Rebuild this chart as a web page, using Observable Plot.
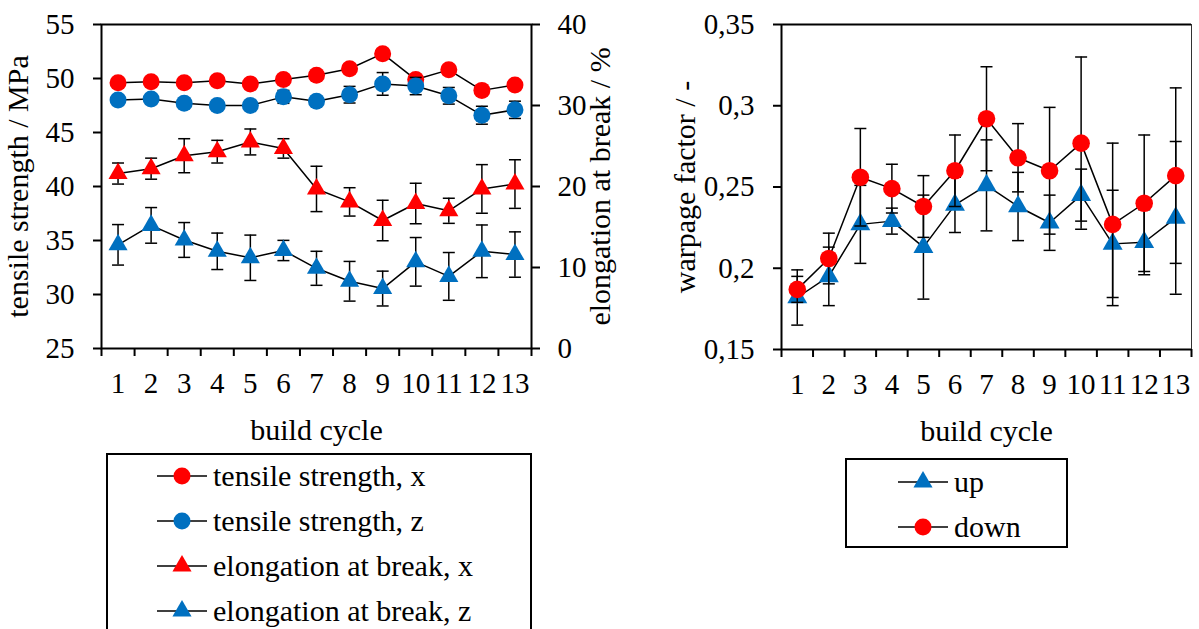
<!DOCTYPE html>
<html><head><meta charset="utf-8">
<script src="https://cdn.jsdelivr.net/npm/d3@7"></script>
<script src="https://cdn.jsdelivr.net/npm/@observablehq/plot@0.6"></script>
<style>
body{margin:0;background:#fff;}
#wrap{position:relative;width:1199px;height:629px;overflow:hidden;font-family:"Liberation Serif","Tinos","Times New Roman","DejaVu Serif","Noto Serif",serif;color:#000;}
.chart{position:absolute;top:0;}
.legend{position:absolute;border:2px solid #000;box-sizing:border-box;background:#fff;}
.row{position:absolute;display:flex;align-items:center;height:30px;font-size:30px;line-height:1;white-space:nowrap;}
.row svg{margin-right:6px;}
</style></head><body><div id="wrap"></div>
<script>
// ---------- data ----------
const cycles = [1,2,3,4,5,6,7,8,9,10,11,12,13];

// left chart (tensile strength, MPa; elongation at break, %)
const tensileX    = [49.6, 49.7, 49.6, 49.8, 49.5, 49.9, 50.3, 50.9, 52.3, 49.9, 50.8, 48.9, 49.4];
const tensileXErr = [0.4, 0.4, 0.4, 0.4, 0.4, 0.4, 0.4, 0.4, 0.4, 0.4, 0.4, 0.4, 0.4];
const tensileZ    = [48.0, 48.1, 47.7, 47.5, 47.5, 48.3, 47.9, 48.5, 49.5, 49.3, 48.4, 46.6, 47.1];
const tensileZErr = [0.4, 0.4, 0.4, 0.4, 0.4, 0.6, 0.4, 0.77, 1.05, 0.8, 0.77, 0.83, 0.8];
const elongX      = [21.6, 22.2, 23.8, 24.3, 25.5, 24.7, 19.7, 18.1, 15.8, 17.9, 17.0, 19.7, 20.3];
const elongXErr   = [1.3, 1.3, 2.1, 1.4, 1.6, 1.2, 2.8, 1.75, 2.5, 2.5, 1.55, 3.0, 3.0];
const elongZ      = [12.8, 15.2, 13.4, 12.0, 11.2, 12.1, 9.9, 8.3, 7.4, 10.7, 8.9, 12.0, 11.6];
const elongZErr   = [2.5, 2.2, 2.15, 2.25, 2.8, 1.25, 2.1, 2.45, 2.15, 3.0, 2.95, 3.25, 2.8];

// right chart (warpage factor)
const up      = [0.182, 0.195, 0.227, 0.229, 0.213, 0.239, 0.251, 0.238, 0.228, 0.245, 0.215, 0.216, 0.231];
const upErr   = [0.017, 0.018, 0.024, 0.008, 0.032, 0.017, 0.028, 0.021, 0.017, 0.016, 0.033, 0.020, 0.047];
const down    = [0.187, 0.206, 0.256, 0.249, 0.238, 0.260, 0.292, 0.268, 0.260, 0.277, 0.227, 0.240, 0.257];
const downErr = [0.008, 0.0156, 0.030, 0.015, 0.019, 0.022, 0.032, 0.021, 0.039, 0.053, 0.050, 0.042, 0.054];

const leftTicks = [25, 30, 35, 40, 45, 50, 55];
const rightTicks = [0, 10, 20, 30, 40];
const warpTicks = [0.15, 0.2, 0.25, 0.3, 0.35];

// ---------- helpers ----------
const RED = "#FF0000", BLUE = "#0070C0";
const FONT = '"Liberation Serif","Tinos","Times New Roman","DejaVu Serif","Noto Serif",serif';
const cap = {draw(ctx){ ctx.moveTo(-6, 0); ctx.lineTo(6, 0); }};
const toLeft = v => 25 + v * 30 / 40; // elongation (0..40) -> left scale (25..55)
const fromLeft = d => Math.round((d - 25) * 40 / 30);

function rows(vals, errs, map = v => v) {
  return cycles.map((c, i) => ({c, v: map(vals[i]), lo: map(vals[i] - errs[i]), hi: map(vals[i] + errs[i])}));
}
function series(data, color, symbol, r) {
  return [
    Plot.ruleX(data, {x: "c", y1: "lo", y2: "hi", stroke: "black", strokeWidth: 1.5}),
    Plot.dot(data, {x: "c", y: "lo", symbol: cap, fill: "none", stroke: "black", strokeWidth: 1.5}),
    Plot.dot(data, {x: "c", y: "hi", symbol: cap, fill: "none", stroke: "black", strokeWidth: 1.5}),
    Plot.line(data, {x: "c", y: "v", stroke: "black", strokeWidth: 1.5}),
    Plot.dot(data, {x: "c", y: "v", symbol, r, fill: color, stroke: "none"})
  ];
}
const bounds = d3.range(0.5, 14, 1);
const xAxes = [
  Plot.axisX({ticks: cycles, tickSize: 0, tickPadding: 24, fontSize: 29, fontFamily: FONT, label: null}),
  Plot.axisX({ticks: bounds, tickSize: 8, tickFormat: () => "", strokeWidth: 2, label: null})
];
const svgStyle = `font-family:${FONT};font-size:29px;color:#000;overflow:visible;background:transparent;`;
const lbl = {fontSize: 30, fontFamily: FONT, fill: "black", textAnchor: "middle", lineAnchor: "middle"};

// ---------- left chart ----------
const left = Plot.plot({
  width: 640, height: 448,
  marginLeft: 101, marginRight: 109, marginTop: 24, marginBottom: 100,
  style: svgStyle,
  x: {type: "linear", domain: [0.5, 13.5]},
  y: {domain: [25, 55]},
  marks: [
    Plot.frame({stroke: "black", strokeWidth: 2}),
    Plot.axisY({anchor: "left", ticks: leftTicks, tickSize: 8, tickPadding: 19, strokeWidth: 2, fontSize: 29, fontFamily: FONT, label: null}),
    Plot.axisY({anchor: "right", ticks: rightTicks.map(toLeft), tickFormat: fromLeft, tickSize: 8, tickPadding: 18, strokeWidth: 2, fontSize: 29, fontFamily: FONT, label: null}),
    ...xAxes,
    ...series(rows(tensileX, tensileXErr), RED, "circle", 8.5),
    ...series(rows(tensileZ, tensileZErr), BLUE, "circle", 8.5),
    ...series(rows(elongX, elongXErr, toLeft), RED, "triangle", 7.1),
    ...series(rows(elongZ, elongZErr, toLeft), BLUE, "triangle", 7.1),
    Plot.text(["tensile strength / MPa"], {...lbl, frameAnchor: "left", dx: -83, rotate: -90}),
    Plot.text(["elongation at break / %"], {...lbl, frameAnchor: "right", dx: 69, rotate: -90}),
    Plot.text(["build cycle"], {...lbl, frameAnchor: "bottom", dy: 82})
  ]
});

// ---------- right chart ----------
const right = Plot.plot({
  width: 559, height: 449,
  marginLeft: 141, marginRight: 8, marginTop: 24, marginBottom: 100,
  style: svgStyle,
  x: {type: "linear", domain: [0.5, 13.5]},
  y: {domain: [0.15, 0.35]},
  marks: [
    Plot.ruleY([0.35], {stroke: "black", strokeWidth: 2}),
    Plot.ruleX([13.5], {stroke: "#333", strokeWidth: 1}),
    Plot.axisY({anchor: "left", ticks: warpTicks, tickFormat: d => String(+d.toFixed(2)).replace(".", ","), tickSize: 8, tickPadding: 19, strokeWidth: 2, fontSize: 29, fontFamily: FONT, label: null}),
    Plot.ruleX([0.5], {stroke: "black", strokeWidth: 2}),
    Plot.ruleY([0.15], {stroke: "black", strokeWidth: 2}),
    ...xAxes,
    ...series(rows(up, upErr), BLUE, "triangle", 7.4),
    ...series(rows(down, downErr), RED, "circle", 8.8),
    Plot.text(["warpage factor / -"], {...lbl, frameAnchor: "left", dx: -96, rotate: -90}),
    Plot.text(["build cycle"], {...lbl, frameAnchor: "bottom", dy: 82})
  ]
});

const wrap = document.getElementById("wrap");
left.classList.add("chart"); left.style.left = "0px";
right.classList.add("chart"); right.style.left = "640px";
wrap.appendChild(left); wrap.appendChild(right);

// ---------- legends ----------
function swatch(color, shape) {
  const s = d3.create("svg").attr("width", 50).attr("height", 30);
  s.append("line").attr("x1", 0).attr("x2", 50).attr("y1", 15).attr("y2", 15).attr("stroke", "black").attr("stroke-width", 1.5);
  if (shape === "circle") s.append("circle").attr("cx", 25).attr("cy", 15).attr("r", 8.5).attr("fill", color);
  else s.append("path").attr("d", d3.symbol(d3.symbolTriangle, Math.PI * 7.1 * 7.1)()).attr("transform", "translate(25,15)").attr("fill", color);
  return s.node();
}
function legend(box, items, swX, rowTops) {
  const div = document.createElement("div");
  div.className = "legend";
  Object.assign(div.style, {left: box[0] + "px", top: box[1] + "px", width: box[2] + "px", height: box[3] + "px"});
  items.forEach((it, i) => {
    const r = document.createElement("div");
    r.className = "row";
    r.style.left = swX + "px"; r.style.top = rowTops[i] + "px";
    r.appendChild(swatch(it.color, it.shape));
    const t = document.createElement("span"); t.textContent = it.label; r.appendChild(t);
    div.appendChild(r);
  });
  wrap.appendChild(div);
}
legend([106, 453, 426, 220], [
  {label: "tensile strength, x", color: RED, shape: "circle"},
  {label: "tensile strength, z", color: BLUE, shape: "circle"},
  {label: "elongation at break, x", color: RED, shape: "triangle"},
  {label: "elongation at break, z", color: BLUE, shape: "triangle"}
], 49, [6, 51, 96, 141]);
legend([845, 458, 223, 90], [
  {label: "up", color: BLUE, shape: "triangle"},
  {label: "down", color: RED, shape: "circle"}
], 51, [7, 52]);
</script></body></html>
